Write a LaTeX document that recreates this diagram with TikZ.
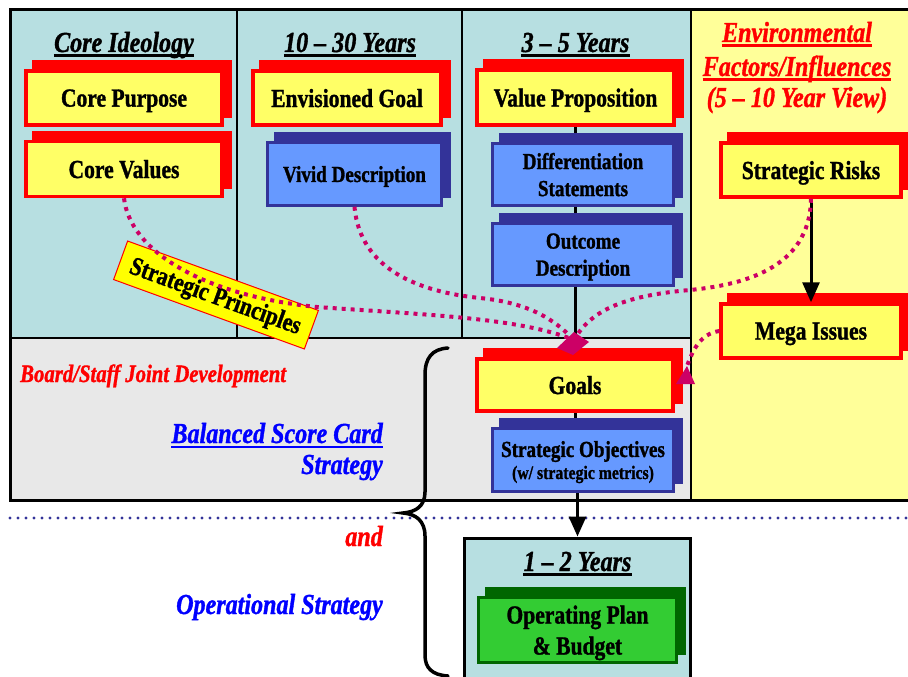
\documentclass[tikz,border=0pt]{standalone}
\usepackage{fontspec}
\setmainfont{Liberation Serif}[FakeStretch=0.83,
  BoldFeatures={FakeBold=1.2}, BoldItalicFeatures={FakeBold=1.2}]
\usetikzlibrary{shadows,arrows.meta}
\pgfdeclarelayer{bg}
\pgfdeclarelayer{mid}
\pgfsetlayers{bg,mid,main}

\definecolor{panelcyan}{RGB}{183,223,225}
\definecolor{panelgray}{RGB}{232,232,232}
\definecolor{panelyellow}{RGB}{255,255,153}
\definecolor{boxyellow}{RGB}{255,255,102}
\definecolor{boxblue}{RGB}{102,153,255}
\definecolor{boxnavy}{RGB}{51,51,153}
\definecolor{boxgreen}{RGB}{51,204,51}
\definecolor{boxdkgreen}{RGB}{0,102,0}
\definecolor{linkmag}{RGB}{204,0,102}
\definecolor{stickyyellow}{RGB}{255,255,0}

\newcommand\bigbox{\fontsize{26}{31}\selectfont\bfseries}
\newcommand\midbox{\fontsize{23}{27}\selectfont\bfseries}
\newcommand\smbox{\fontsize{19}{21}\selectfont\bfseries}
\newcommand\headfont{\fontsize{29}{32}\selectfont\bfseries\itshape}
\newcommand\sidefont{\fontsize{25}{28}\selectfont\bfseries\itshape}

\begin{document}
\begin{tikzpicture}[x=1pt,y=-1pt,
  ybox/.style={draw=red, line width=3.5pt, fill=boxyellow, inner sep=2pt,
    align=center, font=\bigbox, text depth=0pt,
    general shadow={fill=red, draw=red, shadow xshift=8pt, shadow yshift=9pt}},
  bbox/.style={draw=boxnavy, line width=2.5pt, fill=boxblue, inner sep=2pt,
    align=center, font=\midbox, text depth=0pt,
    general shadow={fill=boxnavy, draw=boxnavy, shadow xshift=8pt, shadow yshift=9pt}},
  gbox/.style={draw=boxdkgreen, line width=3pt, fill=boxgreen, inner sep=2pt,
    align=center, font=\bigbox, text depth=0pt,
    general shadow={fill=boxdkgreen, draw=boxdkgreen, shadow xshift=8pt, shadow yshift=9pt}},
  head/.style={inner sep=0pt, anchor=base, font=\headfont},
  side/.style={inner sep=0pt, font=\headfont},
  uline/.style={line width=2.5pt},
  frame/.style={line width=3pt},
  divider/.style={line width=2.5pt},
  flow/.style={line width=3pt, -{Triangle[width=17pt,length=20pt]}},
  link/.style={draw=linkmag, line width=4pt, dash pattern=on 4pt off 5pt},
  bracket/.style={line width=3.5pt, line cap=round},
  sepline/.style={draw=boxnavy, line width=3.2pt, line cap=round, dash pattern=on 0pt off 8pt}
]
\useasboundingbox (0,0) rectangle (908,677);

% panels and frame
\begin{pgfonlayer}{bg}
  \fill[white] (0,0) rectangle (908,677);
  \fill[panelcyan] (10,10) rectangle (691,338);
  \fill[panelgray] (10,338) rectangle (691,500);
  \fill[panelyellow] (691,10) rectangle (912,500);
  \draw[frame] (912,10) -- (10,10) -- (10,500) -- (912,500);
  \draw[divider] (237,10) -- (237,338);
  \draw[divider] (462,10) -- (462,338);
  \draw[divider] (691,10) -- (691,500);
  \draw[divider] (10,338) -- (691,338);
  \draw[sepline] (10,518) -- (908,518);
\end{pgfonlayer}

% short-term panel
\node[draw, line width=3pt, fill=panelcyan, minimum width=226pt, minimum height=160pt,
      anchor=north] (yb) at (577.5,536.5) {};

% column headings
\node[head] (h1) at (124,52) {Core Ideology};
\node[head] (h2) at (350,52) {10 – 30 Years};
\node[head] (h3) at (575.5,52) {3 – 5 Years};
\node[head] (h4) at (577.5,571) {1 – 2 Years};
\node[head, text=red] (e1) at (797,42) {Environmental};
\node[head, text=red] (e2) at (797,76) {Factors/Influences};
\node[head, text=red] (e3) at (797,107) {(5 – 10 Year View)};
\foreach \h in {h1,h2,h3,h4}
  \draw[uline] ([yshift=-3.5pt]\h.base west) -- ([yshift=-3.5pt]\h.base east);
\foreach \h in {e1,e2}
  \draw[uline, red] ([yshift=-3.5pt]\h.base west) -- ([yshift=-3.5pt]\h.base east);

% side labels
\node[side, anchor=base west, text=red, font=\sidefont] (bsj) at (20,382) {Board/Staff Joint Development};
\node[side, anchor=base east, text=blue] (bsc) at (383,443) {Balanced Score Card};
\draw[uline, blue] ([yshift=-4pt]bsc.base west) -- ([yshift=-4pt]bsc.base east);
\node[side, anchor=base east, text=blue] (bst) at (383,474) {Strategy};
\node[side, anchor=base east, text=red] (andl) at (383,546) {and};
\node[side, anchor=base east, text=blue] (ops) at (383,614) {Operational Strategy};

% boxes
\node[ybox, minimum width=196pt, minimum height=54pt] (cp) at (124,98) {Core Purpose};
\node[ybox, minimum width=196pt, minimum height=55pt] (cv) at (124,169) {Core Values};
\node[ybox, minimum width=188pt, minimum height=54pt] (eg) at (347,98) {Envisioned Goal};
\node[bbox, minimum width=174pt, minimum height=63pt] (vd) at (354.5,174) {Vivid Description};
\node[ybox, minimum width=197pt, minimum height=55pt] (vp) at (575.5,97.5) {Value Proposition};
\node[bbox, minimum width=181pt, minimum height=62pt] (ds) at (583,174.5) {Differentiation\\Statements};
\node[bbox, minimum width=181pt, minimum height=62pt] (od) at (583,254.5) {Outcome\\Description};
\node[ybox, minimum width=180pt, minimum height=54pt] (sr) at (811,170) {Strategic Risks};
\node[ybox, minimum width=180pt, minimum height=54pt] (mi) at (811,331) {Mega Issues};
\node[ybox, minimum width=196pt, minimum height=52pt] (gl) at (575,385) {Goals};
\node[bbox, minimum width=181pt, minimum height=63pt] (so) at (583,460)
  {Strategic Objectives\\[-5pt]\smbox (w/ strategic metrics)};
\node[gbox, minimum width=198pt, minimum height=65pt] (op) at (577.5,630)
  {Operating Plan\\\& Budget};

\node[draw=red, line width=1pt, fill=stickyyellow, rotate=-20, minimum width=203pt,
      minimum height=41pt, inner sep=0pt, text depth=0pt, font=\bigbox] (spr) at (216,295) {Strategic Principles};

% spine and flow arrows
\begin{pgfonlayer}{mid}
  \draw[line width=3pt] (vp.south) -- (vp.south |- so.north);
\end{pgfonlayer}
\draw[flow] (so.south -| yb.north) -- (yb.north);
\draw[flow] (sr.south) -- (mi.north);

% bracket
\draw[bracket] (448,348) .. controls (432,349) and (425,358) .. (425,375)
  -- (425,492) .. controls (425,506) and (416,512) .. (403,513)
  .. controls (416,514) and (425,521) .. (425,536)
  -- (425,655) .. controls (425,668) and (432,675) .. (448,676);

% influence links
\coordinate (hub) at (574,340);
\coordinate (mtip) at (687,366);
\draw[link] (cv.south) .. controls (130,250) and (200,295) .. (317,307)
  .. controls (430,315) and (520,318) .. (hub);
\draw[link] (vd.south) .. controls (360,270) and (420,292) .. (480,298)
  .. controls (530,303) and (555,320) .. (hub);
\draw[link] (sr.south) .. controls (810,270) and (740,285) .. (690,290)
  .. controls (620,296) and (590,312) .. (hub);
\draw[link] (mi.west) .. controls (700,334) and (693,350) .. (mtip);
\fill[linkmag] (hub) ++(0,-8) -- ++(15,10) -- ++(-16,13) -- ++(-16,-7) -- cycle;
\fill[linkmag] (mtip) -- ++(8,18) -- ++(-19,0) -- cycle;
\end{tikzpicture}
\end{document}
